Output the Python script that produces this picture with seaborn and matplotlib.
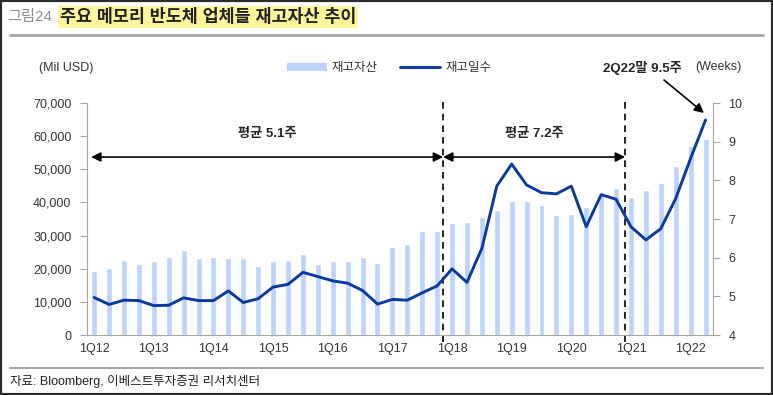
import numpy as np
import pandas as pd
import seaborn as sns
import matplotlib.pyplot as plt
from matplotlib.patches import Patch, Rectangle
from matplotlib.lines import Line2D
from matplotlib.ticker import FuncFormatter

# quarters 1Q12 ~ 2Q22
quarters = [f'{q}Q{y}' for y in range(12, 23) for q in range(1, 5)][:42]

# inventory (Mil USD)
inventory = [19400, 20100, 22600, 21500, 22400, 23500, 25700, 23200,
             23600, 23300, 23200, 20900, 22400, 22700, 24400, 21300,
             22300, 22300, 23600, 21700, 26600, 27600, 31400, 31400,
             33800, 34100, 35600, 37700, 40400, 40400, 39200, 36300,
             36600, 38500, 42500, 44500, 41500, 43600, 45900, 51000,
             57000, 59200]

# inventory weeks
weeks = [4.97, 4.79, 4.90, 4.89, 4.76, 4.77, 4.96, 4.89,
         4.89, 5.14, 4.84, 4.94, 5.24, 5.31, 5.62, 5.51,
         5.40, 5.34, 5.15, 4.80, 4.92, 4.90, 5.09, 5.27,
         5.71, 5.36, 6.24, 7.85, 8.42, 7.88, 7.68, 7.65,
         7.85, 6.80, 7.63, 7.51, 6.80, 6.46, 6.75, 7.53,
         8.57, 9.56]

tick_labels = ['1Q12', '1Q13', '1Q14', '1Q15', '1Q16', '1Q17',
               '1Q18', '1Q19', '1Q20', '1Q21', '1Q22']

bar_color = '#bdd3fb'
line_color = '#0b3a9e'
axis_color = '#a6a6a6'
text_color = '#333333'

df = pd.DataFrame({'quarter': quarters, 'idx': np.arange(len(quarters)),
                   'inventory': inventory, 'weeks': weeks})

sns.set_style('white')
plt.rcParams['font.family'] = ['Liberation Sans', 'Noto Sans CJK KR']
plt.rcParams['axes.unicode_minus'] = False

fig = plt.figure(figsize=(7.73, 3.95), dpi=100)
ax = fig.add_axes([86.7 / 773, 1 - 335 / 395, (713 - 86.7) / 773, (335 - 103) / 395])

# bars
sns.barplot(data=df, x='quarter', y='inventory', color=bar_color, width=0.4,
            saturation=1, ax=ax)

# line on right axis
ax2 = ax.twinx()
sns.lineplot(data=df, x='idx', y='weeks', color=line_color, lw=2.1, ax=ax2)

ax.set_xlim(-0.5, len(quarters) - 0.5)
ax.set_ylim(0, 70000)
ax2.set_ylim(4, 10)
ax.set_xlabel('')
ax.set_ylabel('')
ax2.set_xlabel('')
ax2.set_ylabel('')

# x ticks: labels under bars, tick marks at boundaries
ax.set_xticks(np.arange(0, len(quarters), 4))
ax.set_xticklabels(tick_labels)
ax.set_xticks(np.arange(-0.5, len(quarters) - 1, 4), minor=True)
ax.tick_params(axis='x', which='major', length=0, pad=6, labelsize=9, labelcolor=text_color)
ax.tick_params(axis='x', which='minor', length=4, color=axis_color, direction='out')

ax.set_yticks(np.arange(0, 70001, 10000))
ax.yaxis.set_major_formatter(FuncFormatter(lambda v, p: f'{int(v):,}'))
ax.tick_params(axis='y', left=True, length=5, color=axis_color, direction='out',
               labelsize=9, labelcolor=text_color, pad=6)
ax2.set_yticks(np.arange(4, 11, 1))
ax2.tick_params(axis='y', right=True, length=5, color=axis_color, direction='out',
                labelsize=9, labelcolor=text_color, pad=6)

for a in (ax, ax2):
    a.spines['top'].set_visible(False)
ax.spines['right'].set_visible(False)
ax.spines['left'].set_color(axis_color)
ax.spines['bottom'].set_color(axis_color)
ax2.spines['left'].set_visible(False)
ax2.spines['bottom'].set_visible(False)
ax2.spines['right'].set_color(axis_color)

# dashed period dividers
for xd in (23.4, 35.6):
    ax.axvline(xd, ymin=-0.03, ymax=1.015, color='black', ls=(0, (4, 3)), lw=1.2, clip_on=False)

# period arrows
arrow_kw = dict(arrowstyle='<|-|>', color='black', lw=1.2, mutation_scale=14, shrinkA=0, shrinkB=0)
ax.annotate('', xy=(-0.2, 53700), xytext=(23.4, 53700), arrowprops=arrow_kw)
ax.annotate('', xy=(23.4, 53700), xytext=(35.6, 53700), arrowprops=arrow_kw)
ax.text(11.6, 60500, '평균 5.1주', ha='center', va='center', fontsize=9.5, fontweight='bold')
ax.text(29.5, 60500, '평균 7.2주', ha='center', va='center', fontsize=9.5, fontweight='bold')

# last point callout
fig.text(642 / 773, 1 - 68 / 395, '2Q22말 9.5주', ha='center', va='center', fontsize=9.5, fontweight='bold')
ax.annotate('', xy=(704 / 773, 1 - 113 / 395), xycoords='figure fraction',
            xytext=(664 / 773, 1 - 80 / 395), textcoords='figure fraction',
            arrowprops=dict(arrowstyle='-|>', color='black', lw=1.2, mutation_scale=14, shrinkA=0, shrinkB=0))

# axis units
fig.text(66 / 773, 1 - 68 / 395, '(Mil USD)', ha='center', va='center', fontsize=9, color=text_color)
fig.text(718 / 773, 1 - 67 / 395, '(Weeks)', ha='center', va='center', fontsize=9, color=text_color)

# legend
handles = [Patch(facecolor=bar_color, edgecolor='none'),
           Line2D([0], [0], color=line_color, lw=2.1)]
fig.legend(handles, ['재고자산', '재고일수'], loc='center', bbox_to_anchor=(389 / 773, 1 - 68 / 395),
           ncol=2, frameon=False, fontsize=9, handlelength=3.2, handleheight=0.6,
           columnspacing=1.8, handletextpad=0.4, labelcolor=text_color)

# header and footer
fig.text(7 / 773, 1 - 17 / 395, '그림24', ha='left', va='center', fontsize=11, color='#8c8c8c')
fig.text(60 / 773, 1 - 17 / 395, '주요 메모리 반도체 업체들 재고자산 추이', ha='left', va='center',
         fontsize=12.5, fontweight='bold', color='#222222',
         bbox=dict(facecolor='#fdf59c', edgecolor='none', pad=1.5))
fig.add_artist(Line2D([10 / 773, 763 / 773], [1 - 35 / 395, 1 - 35 / 395],
                      color='#a6a6a6', lw=2, transform=fig.transFigure))
fig.add_artist(Line2D([10 / 773, 763 / 773], [1 - 368 / 395, 1 - 368 / 395],
                      color='#a6a6a6', lw=1.5, transform=fig.transFigure))
fig.text(10 / 773, 1 - 381 / 395, '자료: Bloomberg, 이베스트투자증권 리서치센터', ha='left', va='center',
         fontsize=9, color='#222222')

# outer frame
fig.patches.append(Rectangle((0, 0), 1, 1, transform=fig.transFigure, fill=False,
                             edgecolor='#2b2b2b', lw=3))

plt.savefig('out.png', dpi=100)
